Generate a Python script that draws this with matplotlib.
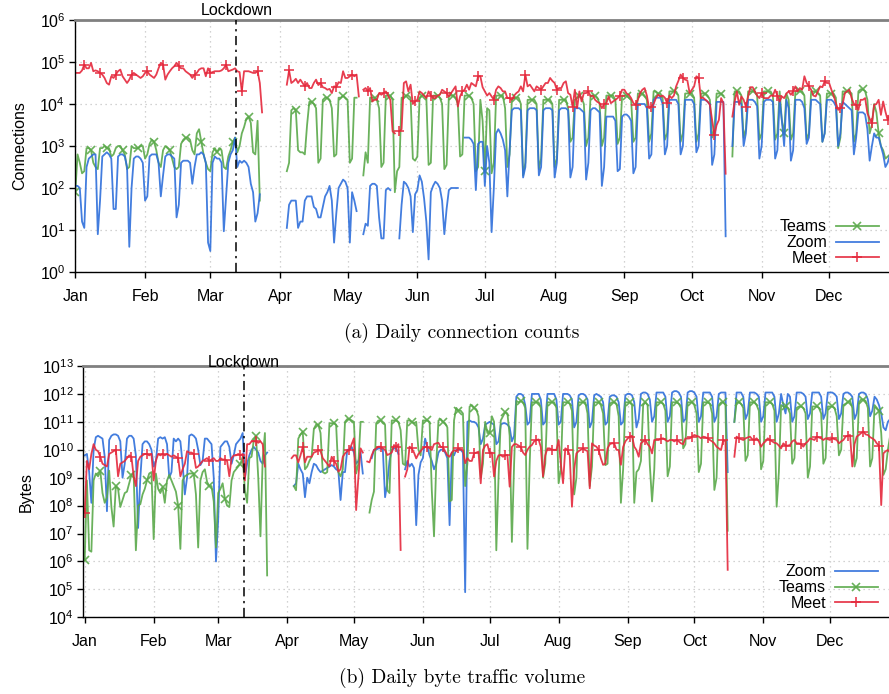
import numpy as np
import matplotlib
matplotlib.use("Agg")
import matplotlib.pyplot as plt
from matplotlib.ticker import FixedLocator, FuncFormatter, NullLocator

N = np.nan
month_days = [0, 31, 60, 91, 121, 152, 182, 213, 244, 274, 305, 335]
month_labels = ["Jan", "Feb", "Mar", "Apr", "May", "Jun", "Jul", "Aug", "Sep", "Oct", "Nov", "Dec"]
lockdown_day = 71.6

# ---- (a) daily connection counts, log10 values, one row per week (Wed..Tue), 2020 ----
conn_zoom_log10 = [
    2.05, 2.05, 2.0, 1.2, 1.05, 2.5, 2.7,
    2.75, 2.8, 2.8, 0.9, 1.7, 2.75, 2.8,
    2.85, 2.8, 2.7, 1.5, 1.5, 2.75, 2.8,
    2.8, 2.75, 2.5, 0.6, 2.0, 2.7, 2.75,
    2.75, 2.7, 2.6, 1.7, 1.8, 2.75, 2.8,
    2.8, 2.8, 2.6, 1.8, 2.3, 2.75, 2.8,
    2.8, 2.75, 2.7, 1.3, 1.6, 2.6, 2.65,
    2.65, 2.65, 2.6, 2.1, 2.5, 2.8, 2.8,
    2.85, 2.8, 2.6, 0.7, 0.5, 2.6, 2.75,
    2.7, 2.7, 2.6, 0.97, 1.8, 2.6, 2.8,
    2.9, 3.2, 2.5, 2.65, 2.6, 2.65, 2.6,
    2.5, 2.1, 1.9, 1.2, 1.4, 1.85, N,
    N, N, N, N, N, N, N,
    N, N, N, 1.05, 1.6, 1.7, 1.7,
    1.7, 1.05, 1.2, 1.2, 1.7, 1.8, 1.8,
    1.8, 1.55, 1.5, 1.3, 1.3, 1.55, 1.8,
    1.9, 2.05, 1.7, 0.7, 1.4, 2.0, 2.1,
    2.2, 2.15, 2.0, 0.7, 1.9, 1.7, 1.45,
    N, N, 0.9, 1.15, 1.1, 2.05, 2.1,
    2.1, 2.05, 1.3, 0.8, 0.8, 1.95, 2.0,
    1.95, N, N, N, 0.8, 1.6, 2.15,
    2.1, 2.0, 1.8, 0.95, 1.85, 1.95, 2.3,
    2.15, 1.75, 1.2, 0.3, 1.9, 2.05, 2.15,
    2.1, 2.0, 1.7, 0.9, 1.5, 1.95, 2.0,
    2.0, 2.0, 2.0, N, N, 3.2, 3.2,
    3.2, 3.15, 3.05, 1.95, 3.05, 3.1, 3.1,
    2.05, 3.0, 2.6, 0.95, 2.0, 3.3, 3.4,
    3.3, 3.15, 2.9, 1.8, 2.9, 3.85, 3.9,
    3.9, 3.9, 3.85, 2.25, 2.5, 3.85, 3.9,
    3.9, 3.9, 3.85, 2.3, 2.5, 3.85, 3.9,
    3.9, 3.9, 3.85, 2.25, 2.6, 3.85, 3.9,
    3.9, 3.9, 3.85, 2.25, 2.5, 3.9, 3.9,
    3.9, 3.85, 3.8, 2.2, 2.6, 3.85, 3.9,
    3.9, 3.85, 3.8, 2.05, 2.5, 3.7, 3.7,
    3.7, 3.7, 3.6, 2.4, 2.45, 3.7, 3.75,
    3.75, 3.7, 3.6, 2.35, 2.5, 4.0, 4.0,
    4.0, 4.0, 3.9, 2.7, 2.8, 4.1, 4.15,
    4.15, 4.15, 4.0, 2.8, 3.0, 4.1, 4.1,
    4.1, 4.1, 4.0, 2.8, 3.0, 4.1, 4.1,
    4.1, 4.1, 4.0, 2.85, 3.0, 4.1, 4.1,
    4.1, 4.05, 4.0, 2.55, 2.8, 4.05, 4.05,
    4.05, 4.05, 0.85, N, N, 3.0, 4.05,
    4.05, 4.05, 4.0, 3.0, 3.3, 4.1, 4.1,
    4.1, 4.05, 3.95, 2.7, 3.0, 4.05, 4.1,
    4.1, 4.1, 4.05, 2.7, 2.9, 4.1, 3.6,
    3.0, 4.1, 3.9, 2.65, 2.9, 4.1, 4.1,
    4.1, 4.05, 3.9, 3.05, 3.2, 4.1, 4.1,
    4.1, 4.05, 4.0, 3.1, 3.3, 4.1, 4.1,
    4.1, 4.05, 3.95, 3.0, 3.3, 4.05, 4.0,
    3.95, 3.9, 3.85, 2.8, 3.2, 3.8, 3.8,
    3.8, 3.75, 3.4, 2.65, 3.0, 3.3, 3.2,
    3.2, 3.0, 2.8, 2.5, 2.6, 2.8, 2.8,
    2.8, 2.8,
]

conn_teams_log10 = [
    1.9, 2.8, 2.6, 2.35, 2.4, 2.95, 2.95,
    2.9, 2.6, 2.5, 2.45, 2.95, 2.95, 3.0,
    2.95, 2.95, 2.75, 2.8, 2.95, 3.0, 3.0,
    2.9, 2.8, 2.45, 2.5, 3.0, 2.95, 2.95,
    2.95, 3.0, 3.0, 2.7, 2.8, 3.05, 3.15,
    3.1, 2.9, 2.6, 2.5, 2.9, 3.0, 2.95,
    2.9, 2.7, 2.5, 2.45, 2.5, 3.05, 3.15,
    3.2, 3.2, 3.15, 2.9, 2.8, 3.3, 3.4,
    3.1, 2.8, 2.6, 2.45, 2.4, 2.85, 2.95,
    2.85, 2.95, 2.9, 2.5, 2.45, 2.75, 2.9,
    3.1, 3.2, 2.85, 3.0, 3.3, 3.45, 3.65,
    3.7, 3.55, 2.85, 2.8, 3.6, 1.7, N,
    N, N, N, N, N, N, N,
    N, N, N, 2.4, 2.6, 3.85, 3.9,
    3.85, 2.9, 2.85, 2.85, 2.8, 3.5, 4.05,
    4.05, 4.0, 3.9, 2.6, 2.7, 4.1, 4.15,
    4.15, 4.1, 3.9, 2.75, 2.8, 4.15, 4.15,
    4.2, 4.15, 4.1, 2.6, 2.7, 4.15, 4.15,
    N, N, 2.3, 2.85, 2.6, 4.15, 4.15,
    4.15, 4.1, 3.9, 2.5, 2.6, 4.2, 4.2,
    4.2, 4.1, 1.9, 2.4, 2.5, 4.15, 4.15,
    4.2, 4.2, 4.15, 2.7, 2.65, 2.75, 4.15,
    4.2, 4.2, 4.15, 2.55, 2.6, 4.2, 4.2,
    4.2, 4.15, 4.0, 2.45, 2.55, 4.2, 4.2,
    4.2, 4.15, 4.0, 2.75, 2.8, 4.2, 4.2,
    4.2, 4.15, 4.0, 2.4, 2.5, 4.1, 3.6,
    2.4, 3.9, 3.85, 2.35, 2.6, 4.2, 4.2,
    4.2, 4.2, 3.9, 2.5, 2.8, 4.1, 4.15,
    4.15, 4.15, 4.0, 2.3, 2.6, 4.1, 4.1,
    4.1, 4.1, 4.0, 2.45, 2.7, 4.1, 4.1,
    4.1, 4.1, 4.0, 2.5, 2.7, 4.1, 4.1,
    4.1, 4.1, 3.9, 3.1, 3.2, 4.1, 4.15,
    4.2, 4.15, 4.0, 3.0, 3.2, 4.2, 4.2,
    4.2, 4.15, 4.0, 3.0, 3.2, 4.2, 4.2,
    4.2, 4.2, 4.1, 3.05, 3.2, 4.2, 4.2,
    4.2, 4.15, 4.1, 3.1, 3.2, 4.25, 4.25,
    4.25, 4.2, 4.1, 3.1, 3.3, 4.3, 4.3,
    4.25, 4.25, 4.15, 3.15, 3.3, 4.3, 4.3,
    4.3, 4.3, 4.2, 3.1, 3.3, 4.25, 4.25,
    4.25, 4.25, 4.15, 3.1, 3.3, 4.25, 4.25,
    4.25, 4.2, 4.1, 3.2, 3.4, 4.25, 4.25,
    4.25, 4.2, N, N, N, 2.75, 4.3,
    4.3, 4.3, 4.2, 3.2, 3.4, 4.3, 4.3,
    4.3, 4.3, 4.2, 3.15, 3.3, 4.3, 4.3,
    4.3, 4.3, 4.2, 3.15, 3.3, 4.3, 3.6,
    3.3, 4.25, 4.1, 3.15, 3.3, 4.3, 4.3,
    4.3, 4.3, 4.2, 3.15, 3.3, 4.3, 4.3,
    4.3, 4.25, 4.2, 3.1, 3.3, 4.25, 4.25,
    4.25, 4.25, 4.15, 2.95, 3.2, 4.3, 4.3,
    4.3, 4.3, 4.25, 3.1, 3.3, 4.3, 4.35,
    4.35, 4.3, 4.1, 3.3, 3.5, 4.0, 3.8,
    3.3, 3.0, 2.9, 2.7, 2.75, 2.8, 2.8,
    2.8, 2.8,
]

conn_meet_log10 = [
    4.74, 4.74, 4.74, 4.8, 4.94, 4.85, 4.85,
    4.98, 4.78, 4.8, 4.78, 4.74, 4.7, 4.62,
    4.5, 4.46, 4.66, 4.62, 4.7, 4.78, 4.82,
    4.66, 4.58, 4.5, 4.58, 4.7, 4.74, 4.7,
    4.66, 4.62, 4.66, 4.74, 4.78, 4.7, 4.66,
    4.62, 4.7, 4.85, 4.98, 4.94, 4.58, 4.7,
    4.78, 4.85, 4.9, 4.98, 4.9, 4.85, 4.85,
    4.78, 4.74, 4.7, 4.62, 4.7, 4.74, 4.82,
    4.85, 4.85, 4.66, 4.85, 4.74, 4.76, 4.78,
    4.78, 4.78, 4.8, 4.85, 4.94, 4.78, 4.8,
    4.82, 4.85, 4.78, 4.76, 4.3, 4.78, 4.78,
    4.78, 4.76, 4.74, 4.74, 4.78, 4.5, 3.8,
    N, N, N, N, N, N, N,
    N, N, N, 4.46, 4.8, 4.5, 4.54,
    4.6, 4.5, 4.58, 4.5, 4.42, 4.5, 4.38,
    4.38, 4.5, 4.58, 4.45, 4.5, 4.4, 4.38,
    4.34, 4.36, 4.26, 4.42, 4.4, 4.52, 4.5,
    4.78, 4.62, 4.62, 4.66, 4.7, 4.66, 4.7,
    4.18, N, 4.34, 4.38, 4.3, 4.38, 4.06,
    4.1, 4.1, 4.26, 4.22, 4.26, 4.3, 4.2,
    4.1, 3.35, 3.3, N, 3.35, 3.4, 4.5,
    4.54, 4.3, 4.46, 4.0, 4.06, 4.1, 4.3,
    4.26, 4.2, 4.14, 4.3, 4.2, 4.14, 4.14,
    4.2, 4.22, 4.34, 4.3, 4.26, 4.18, 4.26,
    4.34, 4.42, 3.94, 4.18, 4.3, 4.34, 4.46,
    4.34, 4.5, 4.46, 4.42, 4.66, 4.66, 4.4,
    4.3, 4.2, 4.26, 4.18, 4.1, 4.34, 4.42,
    4.38, 4.3, 4.3, 4.14, 4.14, 4.1, 4.2,
    4.26, 4.3, 4.42, 4.3, 4.7, 4.42, 4.46,
    4.38, 4.3, 4.42, 4.38, 4.34, 4.42, 4.5,
    4.5, 4.62, 4.55, 4.5, 4.34, 4.38, 4.38,
    4.5, 4.54, 4.26, 4.22, 3.94, 4.34, 3.9,
    4.3, 4.06, 4.26, 4.26, 4.3, 4.18, 4.2,
    4.1, 4.05, 4.02, 3.9, 4.0, 4.02, 4.18,
    4.02, 4.06, 4.1, 4.14, 4.2, 4.34, 4.34,
    4.25, 4.22, 4.14, 4.02, 3.98, 4.1, 4.26,
    4.34, 4.38, 4.2, 3.9, 3.94, 4.0, 4.14,
    4.22, 4.18, 4.2, 4.15, 4.02, 4.2, 4.14,
    4.2, 4.42, 4.55, 4.7, 4.62, 4.58, 4.56,
    4.26, 4.34, 4.42, 4.66, 4.62, 4.14, 4.15,
    4.1, 4.06, 3.98, 3.62, 3.26, 3.5, 3.62,
    4.14, 4.02, 2.34, N, N, 3.7, 4.06,
    4.3, 3.98, 4.18, 4.1, 3.94, 4.18, 4.4,
    4.4, 4.3, 4.2, 4.14, 4.26, 4.14, 4.14,
    4.14, 4.2, 4.2, 4.34, 4.2, 4.06, 4.18,
    4.14, 4.25, 4.3, 4.22, 4.3, 4.42, 4.3,
    4.38, 4.34, 4.66, 4.5, 4.42, 4.34, 4.2,
    4.18, 4.3, 4.42, 4.4, 4.54, 4.5, 4.5,
    4.34, 4.2, 4.02, 3.86, 3.9, 4.0, 4.26,
    4.3, 4.34, 4.14, 4.0, 3.98, 3.86, 4.1,
    4.1, 4.14, 3.78, 3.65, 3.54, 3.98, 4.0,
    4.1, 3.74, 4.06, 3.82, 3.62, 3.75, 3.6,
    3.6, 3.6,
]

# ---- (b) daily byte volume, log10 values, one row per week (Wed..Tue) ----
bytes_zoom_log10 = [
    9.8, 9.85, 9.2, 8.1, 10.0, 10.45, 10.5,
    10.45, 10.4, 9.75, 7.8, 10.35, 10.5, 10.55,
    10.55, 10.5, 10.3, 9.0, 9.5, 10.4, 10.5,
    10.5, 10.4, 9.8, 7.2, 9.0, 10.2, 10.3,
    10.3, 10.2, 10.0, 9.4, 9.6, 10.4, 10.45,
    10.4, 10.45, 10.2, 9.0, 9.2, 10.4, 10.3,
    10.4, 10.3, 9.5, 8.4, 9.0, 10.5, 10.55,
    10.5, 10.4, 10.0, 9.45, 9.6, 10.4, 10.4,
    10.3, 10.2, 9.0, 6.0, 7.5, 10.1, 10.2,
    10.3, 10.3, 10.1, 9.5, 9.8, 10.2, 10.3,
    10.4, 10.6, 9.0, 9.5, 9.8, 10.0, 10.1,
    10.0, 9.9, 9.6, 9.5, 9.8, 9.9, N,
    N, N, N, N, N, N, N,
    N, N, N, 8.7, 8.8, 9.5, 9.3,
    9.15, 8.3, 9.0, 8.8, 9.2, 9.5, 9.45,
    9.3, 9.2, 9.25, 9.3, 9.35, 9.4, 9.45,
    9.4, 9.3, 9.25, 8.2, 9.2, 9.2, 10.0,
    10.0, 10.1, 9.9, 9.5, 9.6, 9.9, 9.15,
    N, N, N, 9.7, 10.0, 10.0, 10.05,
    10.05, 10.0, 8.3, 8.8, 9.6, 10.0, 10.05,
    10.05, 9.85, N, N, 9.3, 9.6, 9.4,
    9.5, 9.35, 7.3, 9.1, 9.55, 9.7, 10.4,
    10.1, 9.8, 9.6, 9.3, 9.5, 9.9, 10.0,
    10.0, 9.9, 9.7, 7.3, 9.9, 9.8, 10.0,
    10.0, 10.0, 9.9, 4.9, 11.0, 11.05, 11.0,
    11.0, 10.95, 10.8, 10.2, 10.4, 10.9, 10.95,
    11.0, 10.95, 10.9, 10.2, 10.3, 10.9, 10.95,
    10.95, 10.9, 10.8, 10.3, 10.5, 11.9, 12.0,
    12.0, 11.95, 11.6, 10.9, 11.0, 12.0, 12.0,
    12.0, 12.0, 11.8, 10.9, 11.0, 12.0, 12.0,
    12.0, 12.0, 11.8, 10.9, 11.0, 12.0, 12.0,
    12.0, 11.95, 11.8, 10.8, 11.0, 11.95, 12.0,
    12.0, 11.95, 11.8, 10.8, 11.0, 11.95, 12.0,
    11.95, 11.9, 11.7, 10.9, 11.0, 11.9, 11.95,
    11.95, 11.9, 11.7, 10.9, 11.0, 11.95, 12.0,
    12.0, 11.95, 11.7, 10.8, 11.1, 12.0, 12.05,
    12.05, 12.0, 11.8, 11.0, 11.2, 12.05, 12.05,
    12.05, 12.05, 11.9, 11.0, 11.2, 12.05, 12.1,
    12.1, 12.05, 11.9, 11.0, 11.1, 12.05, 12.1,
    12.1, 12.05, 11.9, 11.0, 11.2, 12.05, 12.05,
    12.05, 12.05, 11.9, 11.0, 11.2, 12.0, 12.05,
    12.05, 12.05, 9.2, N, N, 11.0, 12.05,
    12.05, 12.05, 11.9, 11.1, 11.3, 12.05, 12.05,
    12.05, 12.0, 11.9, 11.0, 11.2, 12.05, 12.05,
    12.05, 12.05, 11.9, 11.0, 11.3, 12.0, 11.6,
    11.3, 12.0, 11.9, 11.0, 11.2, 12.05, 12.05,
    12.05, 12.0, 11.9, 11.1, 11.3, 12.05, 12.05,
    12.05, 12.05, 11.9, 11.1, 11.3, 12.05, 12.05,
    12.05, 12.0, 11.9, 11.1, 11.3, 12.0, 12.05,
    12.05, 12.0, 11.9, 11.1, 11.3, 12.0, 12.05,
    12.05, 12.0, 11.8, 11.2, 11.4, 11.9, 11.8,
    11.6, 11.3, 10.8, 10.7, 11.0, 11.1, 11.2,
    11.2, 11.2,
]

bytes_teams_log10 = [
    6.05, 8.9, 6.4, 6.35, 8.9, 9.15, 9.05,
    9.25, 8.45, 8.1, 8.3, 9.25, 7.95, 7.25,
    8.7, 8.6, 7.95, 8.2, 8.45, 8.5, 8.8,
    9.1, 9.15, 6.4, 8.0, 8.05, 8.4, 8.6,
    8.9, 9.15, 9.2, 6.8, 9.15, 8.6, 8.45,
    8.65, 8.1, 8.9, 9.1, 8.9, 8.7, 8.5,
    8.0, 6.45, 8.9, 9.05, 9.1, 9.15, 9.15,
    9.15, 8.4, 6.5, 8.9, 9.2, 9.3, 8.85,
    8.7, 8.7, 8.15, 6.5, 8.45, 8.6, 8.8,
    8.25, 8.0, 7.95, 8.9, 9.2, 9.3, 9.4,
    9.5, 9.75, 8.55, 8.1, 9.7, 9.75, 10.35,
    10.5, 9.0, 6.9, 9.7, 10.6, 5.5, N,
    N, N, N, N, N, N, N,
    N, N, N, 8.7, 8.55, 10.4, 10.55,
    10.65, 9.3, 9.4, 9.6, 9.75, 10.75, 10.9,
    10.9, 10.6, 9.2, 9.15, 9.2, 10.95, 10.95,
    10.95, 10.9, 9.2, 9.05, 9.3, 11.0, 11.1,
    11.1, 11.05, 11.0, 9.15, 9.5, 11.0, 11.0,
    N, N, 7.75, 8.2, 8.5, 10.95, 11.05,
    11.05, 10.95, 10.9, 8.55, 8.45, 11.05, 11.05,
    11.05, 11.0, 10.7, 9.5, 9.45, 11.05, 11.05,
    11.0, 10.95, 11.0, 10.0, 9.8, 11.05, 11.05,
    11.05, 11.0, 8.56, 6.9, 9.5, 11.05, 11.1,
    11.0, 10.95, 10.8, 8.15, 8.2, 11.05, 11.5,
    11.4, 11.4, 11.3, 8.7, 9.5, 11.55, 11.6,
    11.5, 11.45, 11.2, 9.0, 9.5, 11.0, 10.6,
    10.6, 11.2, 11.0, 6.4, 9.0, 11.05, 11.2,
    11.35, 11.3, 10.5, 6.7, 9.5, 11.75, 11.7,
    11.75, 11.7, 11.5, 6.45, 9.5, 11.7, 11.7,
    11.7, 11.7, 11.5, 9.0, 9.5, 11.7, 11.7,
    11.7, 11.7, 11.5, 8.8, 9.3, 11.7, 11.7,
    11.7, 11.65, 11.4, 8.4, 9.0, 11.7, 11.7,
    11.7, 11.7, 11.3, 8.7, 9.4, 11.7, 11.7,
    11.7, 11.6, 11.3, 9.45, 9.5, 11.65, 11.7,
    11.7, 11.65, 11.2, 8.1, 9.3, 11.7, 11.7,
    11.7, 11.6, 8.1, 9.2, 9.3, 9.6, 11.6,
    11.7, 11.6, 9.45, 8.15, 9.3, 11.7, 11.7,
    11.7, 11.65, 11.4, 9.05, 9.4, 11.7, 11.7,
    11.7, 11.65, 11.5, 10.05, 10.2, 11.7, 11.7,
    11.7, 11.6, 11.3, 9.2, 9.5, 11.7, 11.7,
    11.7, 11.65, 11.3, 8.56, 9.0, 11.6, 11.7,
    11.7, 11.6, 7.1, N, N, 11.0, 11.7,
    11.7, 11.65, 11.5, 9.6, 9.8, 11.7, 11.7,
    11.7, 11.6, 11.4, 9.3, 9.6, 11.7, 11.7,
    11.7, 11.65, 11.4, 7.96, 9.2, 11.6, 11.55,
    11.55, 11.5, 11.3, 9.5, 9.7, 11.5, 11.55,
    11.55, 11.5, 11.3, 9.0, 9.4, 11.55, 11.55,
    11.55, 11.5, 11.3, 9.5, 9.7, 11.55, 11.55,
    11.55, 11.5, 11.2, 9.8, 10.0, 11.6, 11.65,
    11.7, 11.75, 11.5, 9.4, 9.7, 11.7, 11.8,
    11.8, 11.75, 11.5, 9.4, 9.7, 11.6, 11.5,
    11.4, 10.6, 9.1, 9.3, 10.0, 10.5, 10.5,
    10.5, 10.5,
]

bytes_meet_log10 = [
    7.75, 9.6, 9.3, 9.85, 10.2, 10.0, 9.95,
    9.75, 9.5, 9.45, 9.4, 9.85, 9.9, 9.95,
    10.0, 9.05, 9.5, 9.55, 9.6, 9.7, 9.8,
    9.75, 9.05, 8.7, 9.6, 9.75, 9.8, 9.85,
    9.85, 9.8, 9.85, 8.9, 9.6, 9.85, 9.8,
    9.85, 9.8, 9.85, 9.8, 9.75, 9.8, 9.75,
    9.7, 9.05, 9.3, 9.5, 9.95, 9.9, 9.9,
    9.85, 9.35, 9.4, 9.5, 9.6, 9.65, 9.7,
    9.6, 9.65, 9.7, 9.6, 9.6, 9.7, 9.65,
    9.65, 9.6, 9.05, 9.7, 9.8, 9.8, 9.85,
    9.8, 9.85, 8.9, 10.2, 10.2, 10.3, 10.3,
    10.3, 10.25, 10.3, 10.2, 9.4, N, N,
    N, N, N, N, N, N, N,
    N, N, 9.7, 9.8, 9.8, 9.55, 9.8,
    10.1, 9.55, 9.75, 9.75, 9.75, 9.9, 9.93,
    9.99, 9.95, 9.7, 9.6, 9.5, 9.4, 9.75,
    9.6, 9.5, 9.22, 9.3, 9.75, 9.87, 9.95,
    9.99, 10.2, 10.41, 7.84, 9.0, 10.05, 9.9,
    N, 9.58, 9.55, 9.8, 9.99, 10.05, 10.11,
    10.11, 10.05, 10.0, 9.81, 9.85, 9.9, 10.17,
    10.1, 10.2, 6.41, N, 9.04, 9.3, 10.11,
    10.05, 9.9, 9.69, 9.85, 9.95, 10.05, 10.1,
    10.1, 10.05, 9.99, 10.2, 10.23, 10.25, 10.1,
    10.1, 9.95, 9.8, 9.75, 9.9, 9.99, 9.95,
    10.05, 10.0, 9.99, 9.52, 9.7, 9.6, 9.6,
    9.87, 9.9, 9.93, 8.8, 9.99, 10.15, 10.2,
    9.87, 9.9, 9.04, 9.6, 9.8, 9.81, 9.75,
    9.8, 9.81, 8.68, 10.1, 10.2, 10.2, 10.15,
    10.1, 9.9, 9.81, 10.0, 10.11, 10.17, 10.3,
    10.35, 10.37, 10.1, 9.04, 9.8, 10.05, 10.05,
    10.0, 10.0, 9.99, 10.35, 9.5, 8.8, 10.05,
    10.0, 9.8, 7.96, 9.3, 9.87, 9.95, 10.0,
    10.05, 9.99, 9.95, 8.62, 10.23, 10.15, 10.11,
    9.99, 9.69, 9.46, 9.5, 10.05, 10.2, 10.23,
    10.23, 10.0, 9.99, 9.46, 10.1, 10.3, 10.4,
    10.47, 10.5, 10.11, 9.99, 9.75, 10.23, 10.3,
    10.35, 10.2, 10.11, 9.87, 10.35, 10.35, 10.35,
    10.4, 10.41, 10.35, 10.3, 10.35, 10.35, 10.3,
    10.35, 10.3, 10.23, 10.2, 10.41, 10.4, 10.41,
    10.47, 10.53, 10.5, 10.47, 10.41, 10.47, 10.45,
    10.41, 10.35, 10.3, 10.23, 10.11, 10.05, 9.99,
    10.35, 10.3, 5.7, N, N, 9.75, 10.47,
    10.41, 10.38, 10.35, 10.41, 10.44, 10.47, 10.38,
    10.35, 10.41, 10.3, 10.11, 10.23, 10.3, 10.41,
    10.35, 10.3, 10.25, 10.23, 10.15, 10.05, 10.23,
    10.15, 10.15, 10.17, 10.3, 10.35, 10.23, 10.23,
    10.2, 10.11, 10.23, 10.3, 10.41, 10.38, 10.35,
    10.47, 10.44, 10.41, 10.35, 10.41, 10.38, 10.35,
    10.41, 10.38, 10.35, 10.23, 10.3, 10.35, 10.47,
    10.5, 10.53, 9.4, 10.2, 10.47, 10.53, 10.6,
    10.65, 10.55, 10.53, 10.45, 10.41, 10.35, 10.23,
    10.15, 8.02, 9.87, 9.95, 9.99, 9.9, 9.9,
    9.9, 9.9,
]

# ---------------------------------------------------------------------------
SANS = "Liberation Sans"
plt.rcParams["font.family"] = [SANS, "DejaVu Sans"]
plt.rcParams["mathtext.fontset"] = "custom"
plt.rcParams["mathtext.rm"] = SANS
plt.rcParams["mathtext.it"] = SANS
plt.rcParams["mathtext.bf"] = SANS

C_TEAMS = "#5aa94a"
C_ZOOM = "#2e6fdb"
C_MEET = "#e5283c"
FS = 11.5

W, H = 889, 694
fig = plt.figure(figsize=(W / 100, H / 100), dpi=100)

days = np.arange(len(conn_zoom_log10))


def to_vals(lst):
    return np.power(10.0, np.array(lst, dtype=float))


def style_axes(ax, ymin_exp, ymax_exp, xlim):
    ax.set_yscale("log")
    ax.set_ylim(10.0 ** ymin_exp, 10.0 ** ymax_exp)
    ax.set_xlim(*xlim)
    ax.yaxis.set_major_locator(FixedLocator([10.0 ** k for k in range(ymin_exp, ymax_exp + 1)]))
    ax.yaxis.set_minor_locator(NullLocator())
    ax.yaxis.set_major_formatter(FuncFormatter(lambda v, p: r"$10^{%d}$" % int(round(np.log10(v)))))
    ax.set_xticks(month_days)
    ax.set_xticklabels(month_labels)
    ax.xaxis.set_minor_locator(NullLocator())
    ax.grid(True, which="major", color="#c4c4c4", linestyle=(0, (1, 3)), linewidth=0.9)
    ax.set_axisbelow(True)
    for s in ("left", "bottom"):
        ax.spines[s].set_color("black")
        ax.spines[s].set_linewidth(1.0)
    ax.spines["top"].set_color("#808080")
    ax.spines["top"].set_linewidth(2.0)
    ax.spines["right"].set_visible(False)
    ax.tick_params(axis="both", which="major", direction="out", length=4, width=1,
                   labelsize=FS, colors="black", pad=3)
    ax.tick_params(axis="x", pad=8)
    ax.axvline(lockdown_day, color="black", linestyle=(0, (6, 3, 1.5, 3)), linewidth=1.1, zorder=5)


def plot_series(ax, y_log10, color, label, marker=None, mevery=None, ms=6):
    kw = dict(color=color, linewidth=1.3, alpha=0.9, label=label, solid_joinstyle="round")
    if marker:
        kw.update(marker=marker, markevery=mevery, markersize=ms, markeredgewidth=1.2,
                  markerfacecolor=color, markeredgecolor=color)
    return ax.plot(days, to_vals(y_log10), **kw)[0]


# ---- panel (a) ----
ax1 = fig.add_axes([75 / W, 1 - 272 / H, 1 - 75 / W, (272 - 20) / H])
style_axes(ax1, 0, 6, (-0.13, 361.6))
h_teams = plot_series(ax1, conn_teams_log10, C_TEAMS, "Teams", "x", (0, 7), 5.5)
h_zoom = plot_series(ax1, conn_zoom_log10, C_ZOOM, "Zoom")
h_meet = plot_series(ax1, conn_meet_log10, C_MEET, "Meet", "+", (4, 7), 7)
ax1.set_ylabel("Connections", fontsize=FS, labelpad=9)
ax1.text(lockdown_day, 10 ** 6.05, "Lockdown", ha="center", va="bottom", fontsize=FS)
ax1.legend(handles=[h_teams, h_zoom, h_meet], loc="lower right",
           bbox_to_anchor=(879 / W, 1 - 266 / H), bbox_transform=fig.transFigure,
           frameon=False, markerfirst=False, fontsize=FS, handlelength=2.7,
           handletextpad=0.55, labelspacing=0.05, borderpad=0, borderaxespad=0, numpoints=1)

# ---- panel (b) ----
ax2 = fig.add_axes([83.3 / W, 1 - 617.3 / H, 1 - 83.3 / W, (617.3 - 366) / H])
style_axes(ax2, 4, 13, (-0.63, 361.5))
g_zoom = plot_series(ax2, bytes_zoom_log10, C_ZOOM, "Zoom")
g_teams = plot_series(ax2, bytes_teams_log10, C_TEAMS, "Teams", "x", (0, 7), 5.5)
g_meet = plot_series(ax2, bytes_meet_log10, C_MEET, "Meet", "+", (0, 7), 7)
ax2.set_ylabel("Bytes", fontsize=FS, labelpad=6)
ax2.text(lockdown_day, 10 ** 12.85, "Lockdown", ha="center", va="bottom", fontsize=FS)
ax2.legend(handles=[g_zoom, g_teams, g_meet], loc="lower right",
           bbox_to_anchor=(878 / W, 1 - 611 / H), bbox_transform=fig.transFigure,
           frameon=False, markerfirst=False, fontsize=FS, handlelength=2.7,
           handletextpad=0.55, labelspacing=0.05, borderpad=0, borderaxespad=0, numpoints=1)

# ---- captions ----
fig.text(462 / W, 1 - 333 / H, "(a) Daily connection counts", ha="center", va="center",
         fontsize=14, family=["cmr10", "DejaVu Serif"])
fig.text(462 / W, 1 - 678 / H, "(b) Daily byte traffic volume", ha="center", va="center",
         fontsize=14, family=["cmr10", "DejaVu Serif"])

fig.savefig("out.png", dpi=100)
